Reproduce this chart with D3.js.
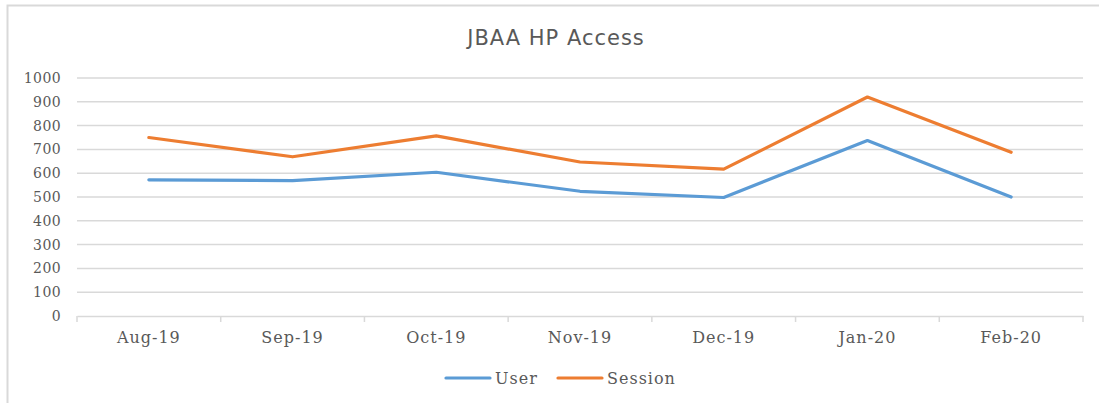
<!DOCTYPE html>
<html>
<head>
<meta charset="utf-8">
<script src="https://cdn.jsdelivr.net/npm/d3@7"></script>
<style>
  body { margin: 0; background: #fff; }
  svg { display: block; }
</style>
</head>
<body>
<script>
// DATA
const MONTHS = ['Aug-19', 'Sep-19', 'Oct-19', 'Nov-19', 'Dec-19', 'Jan-20', 'Feb-20'];
const USER = [572, 569, 604, 524, 498, 737, 500];
const SESSION = [750, 669, 757, 647, 617, 920, 688];
const Y_TICKS = [0, 100, 200, 300, 400, 500, 600, 700, 800, 900, 1000];
const SERIES = [
  {name: 'User', values: USER, color: '#5b9bd5'},
  {name: 'Session', values: SESSION, color: '#ed7d31'}
];

// CONSTANTS
const WIDTH = 1099;
const HEIGHT = 403;
const LEFT = 77, RIGHT = 1083, TOP = 78, BOTTOM = 316;
const TEXT_COLOR = '#595959';
const GRID_COLOR = '#d9d9d9';
const SERIF = '"DejaVu Serif", serif';

const svg = d3.select('body').append('svg')
  .attr('width', WIDTH)
  .attr('height', HEIGHT);

// chart frame (cut off at right and bottom)
svg.append('path')
  .attr('d', 'M7.5,' + HEIGHT + ' V5.5 H' + WIDTH)
  .attr('fill', 'none')
  .attr('stroke', GRID_COLOR)
  .attr('stroke-width', 2);

// TITLE
svg.append('text')
  .attr('x', 556)
  .attr('y', 45)
  .attr('text-anchor', 'middle')
  .style('font-family', '"DejaVu Sans", Verdana, sans-serif')
  .style('font-size', '21px')
  .style('letter-spacing', '1px')
  .style('fill', TEXT_COLOR)
  .text('JBAA HP Access');

// SCALES
const xScale = d3.scaleBand().domain(MONTHS).range([LEFT, RIGHT]);
const yScale = d3.scaleLinear().domain([0, 1000]).range([BOTTOM, TOP]);

// GRID
svg.append('g')
  .selectAll('line')
  .data(Y_TICKS.filter(d => d > 0))
  .enter().append('line')
  .attr('x1', LEFT).attr('x2', RIGHT)
  .attr('y1', d => yScale(d)).attr('y2', d => yScale(d))
  .attr('stroke', GRID_COLOR)
  .attr('stroke-width', 1.5);

// Y-AXIS
const yAxis = svg.append('g')
  .attr('transform', 'translate(' + (LEFT - 16) + ',0)')
  .call(d3.axisLeft(yScale).tickValues(Y_TICKS).tickFormat(d3.format('d')).tickSize(0).tickPadding(0));
yAxis.select('.domain').remove();
yAxis.selectAll('text')
  .style('font-family', SERIF)
  .style('font-size', '14px')
  .style('letter-spacing', '0.4px')
  .style('fill', TEXT_COLOR);

// X-AXIS
const xAxis = svg.append('g')
  .attr('transform', 'translate(0,' + BOTTOM + ')')
  .call(d3.axisBottom(xScale).tickSize(0).tickPadding(16));
xAxis.select('.domain')
  .attr('stroke', GRID_COLOR)
  .attr('stroke-width', 1.5);
xAxis.selectAll('text')
  .style('font-family', SERIF)
  .style('font-size', '16px')
  .style('letter-spacing', '1px')
  .style('fill', TEXT_COLOR);
// boundary tick marks
xAxis.selectAll('.bound')
  .data(d3.range(MONTHS.length + 1))
  .enter().append('line')
  .attr('class', 'bound')
  .attr('x1', i => LEFT + i * xScale.step())
  .attr('x2', i => LEFT + i * xScale.step())
  .attr('y1', 0).attr('y2', 6)
  .attr('stroke', GRID_COLOR)
  .attr('stroke-width', 1.5);

// LINES
const line = d3.line()
  .x((d, i) => xScale(MONTHS[i]) + xScale.bandwidth() / 2)
  .y(d => yScale(d));

svg.selectAll('.series')
  .data(SERIES)
  .enter().append('path')
  .attr('class', 'series')
  .attr('d', d => line(d.values))
  .attr('fill', 'none')
  .attr('stroke', d => d.color)
  .attr('stroke-width', 3.2)
  .attr('stroke-linejoin', 'round')
  .attr('stroke-linecap', 'round');

// LEGEND
const legend = svg.append('g')
  .selectAll('g')
  .data(SERIES)
  .enter().append('g')
  .attr('transform', (d, i) => 'translate(' + (446 + i * 112) + ',378)');

legend.append('line')
  .attr('x1', 0).attr('x2', 44)
  .attr('stroke', d => d.color)
  .attr('stroke-width', 3.2)
  .attr('stroke-linecap', 'round');

legend.append('text')
  .attr('x', 49)
  .attr('dy', '0.35em')
  .style('font-family', SERIF)
  .style('font-size', '16px')
  .style('letter-spacing', '1px')
  .style('fill', TEXT_COLOR)
  .text(d => d.name);
</script>
</body>
</html>
